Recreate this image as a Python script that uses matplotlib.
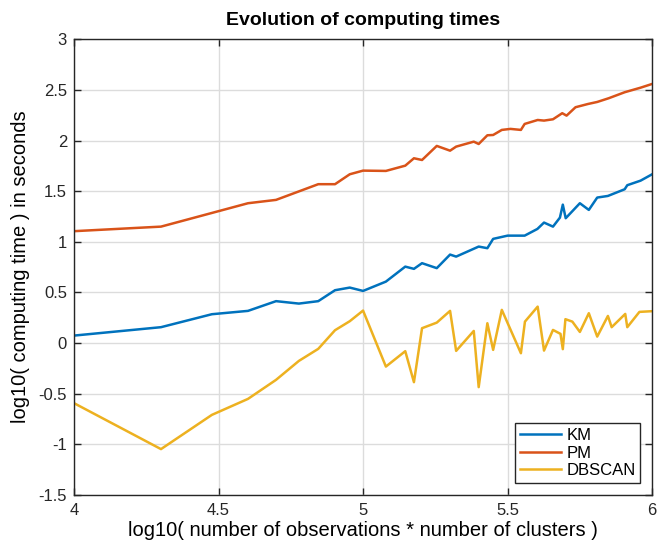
import matplotlib
matplotlib.use("Agg")
import matplotlib.pyplot as plt
from matplotlib.ticker import FuncFormatter

plt.rcParams['font.family'] = ['Liberation Sans', 'DejaVu Sans']
plt.rcParams['axes.unicode_minus'] = False

# log10(observations * clusters) and log10(time)
x_km = [4.0, 4.301, 4.477, 4.602, 4.699, 4.778, 4.845, 4.903, 4.954, 5.0,
        5.079, 5.146, 5.176, 5.204, 5.255, 5.301, 5.322, 5.4, 5.43, 5.45,
        5.5, 5.559, 5.603, 5.626, 5.657, 5.681, 5.691, 5.701, 5.75, 5.781,
        5.81, 5.847, 5.905, 5.914, 5.96, 6.0]
y_km = [0.074, 0.157, 0.285, 0.318, 0.414, 0.39, 0.414, 0.522, 0.548, 0.515,
        0.607, 0.755, 0.733, 0.789, 0.74, 0.874, 0.854, 0.953, 0.937, 1.029,
        1.061, 1.061, 1.127, 1.19, 1.15, 1.239, 1.367, 1.233, 1.381, 1.315,
        1.437, 1.453, 1.519, 1.559, 1.604, 1.667]

x_pm = [4.0, 4.301, 4.477, 4.602, 4.699, 4.845, 4.903, 4.954, 5.0, 5.079,
        5.146, 5.176, 5.204, 5.255, 5.301, 5.322, 5.383, 5.4, 5.43, 5.45,
        5.48, 5.51, 5.546, 5.559, 5.604, 5.626, 5.657, 5.689, 5.704, 5.735,
        5.778, 5.81, 5.85, 5.905, 5.96, 6.0]
y_pm = [1.105, 1.15, 1.285, 1.381, 1.414, 1.569, 1.569, 1.667, 1.703, 1.70,
        1.752, 1.825, 1.808, 1.947, 1.90, 1.94, 1.989, 1.966, 2.052, 2.055,
        2.105, 2.115, 2.105, 2.164, 2.203, 2.197, 2.21, 2.27, 2.246, 2.329,
        2.361, 2.381, 2.418, 2.477, 2.522, 2.559]

x_db = [4.0, 4.301, 4.477, 4.602, 4.699, 4.778, 4.845, 4.903, 4.954, 5.0,
        5.079, 5.146, 5.176, 5.204, 5.255, 5.301, 5.322, 5.383, 5.4, 5.43,
        5.45, 5.48, 5.546, 5.56, 5.604, 5.626, 5.657, 5.683, 5.691, 5.70,
        5.724, 5.75, 5.781, 5.81, 5.847, 5.86, 5.907, 5.914, 5.956, 6.0]
y_db = [-0.593, -1.047, -0.709, -0.551, -0.363, -0.176, -0.057, 0.127, 0.216, 0.321,
        -0.232, -0.08, -0.386, 0.147, 0.202, 0.318, -0.077, 0.12, -0.435, 0.196,
        -0.067, 0.328, -0.10, 0.212, 0.36, -0.074, 0.13, 0.091, -0.06, 0.236,
        0.212, 0.11, 0.295, 0.064, 0.268, 0.157, 0.288, 0.157, 0.308, 0.315]

fig = plt.figure(figsize=(6.57, 5.44), dpi=100)
ax = fig.add_axes([0.1126, 0.0901, 0.88, 0.8377])

ax.plot(x_km, y_km, color='#0072BD', lw=1.8, label='KM')
ax.plot(x_pm, y_pm, color='#D95319', lw=1.8, label='PM')
ax.plot(x_db, y_db, color='#EDB120', lw=1.8, label='DBSCAN')

ax.set_xlim(4, 6)
ax.set_ylim(-1.5, 3)
ax.set_xticks([4, 4.5, 5, 5.5, 6])
ax.set_yticks([-1.5, -1, -0.5, 0, 0.5, 1, 1.5, 2, 2.5, 3])
fmt = FuncFormatter(lambda v, p: '%g' % v)
ax.xaxis.set_major_formatter(fmt)
ax.yaxis.set_major_formatter(fmt)
ax.grid(True, color='#dcdcdc', lw=1)
ax.set_axisbelow(True)
ax.tick_params(direction='in', top=True, right=True, length=5, width=1,
               labelsize=12, colors='#262626')
ax.tick_params(axis='x', pad=6)
ax.tick_params(axis='y', pad=5)
for s in ax.spines.values():
    s.set_color('#262626')
    s.set_linewidth(1)

ax.set_title('Evolution of computing times', fontsize=14, fontweight='bold', pad=10)
ax.set_xlabel('log10( number of observations * number of clusters )', fontsize=14.5, labelpad=2)
ax.set_ylabel('log10( computing time ) in seconds', fontsize=14.5, labelpad=6)

leg = ax.legend(loc='lower right', fontsize=12, fancybox=False, framealpha=1,
                edgecolor='#262626', borderpad=0.3, labelspacing=0.15,
                handlelength=2.5, handletextpad=0.3, borderaxespad=0.7)
leg.get_frame().set_linewidth(1)

fig.savefig('out.png', dpi=100)
